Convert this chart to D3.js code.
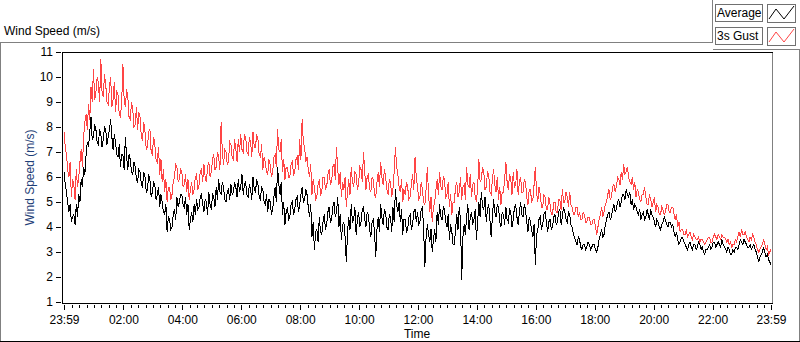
<!DOCTYPE html>
<html lang="en">
<head>
<meta charset="UTF-8">
<title>Wind Speed (m/s)</title>
<script src="https://d3js.org/d3.v7.min.js"></script>
<style>
  body { margin: 0; background: #fff; }
  svg { display: block; font-family: "Liberation Sans", Arial, sans-serif; font-size: 12px; }
  .frame { fill: none; stroke: #808080; shape-rendering: crispEdges; }
  .axis line { stroke: #000; shape-rendering: crispEdges; }
  .axis text { fill: #000; }
  .series { fill: none; stroke-width: 1; shape-rendering: crispEdges; }
</style>
</head>
<body>
<svg width="800" height="342"></svg>
<script>
// 2.5-minute samples, 23:59 (previous day) to 23:59
const average = [
  6.2,5.7,5.4,5.0,4.6,4.9,4.2,4.4,4.5,4.1,4.9,4.4,5.3,5.0,5.9,5.6,6.4,6.1,6.9,7.4,7.2,7.8,8.4,7.5,
  7.6,8.1,7.9,7.4,7.3,7.9,7.7,7.2,7.5,8.0,7.9,7.3,7.6,7.9,8.3,7.6,7.1,7.7,7.4,6.9,6.8,7.3,6.4,6.9,
  6.9,6.3,7.6,6.8,6.3,6.9,6.7,6.2,6.1,6.6,6.4,5.9,5.8,6.3,6.2,5.7,5.6,6.2,6.0,5.4,5.5,6.1,5.9,5.2,
  5.4,5.8,5.7,5.1,5.3,5.6,4.8,5.3,5.0,4.6,4.5,4.9,3.8,4.4,4.3,3.9,4.0,4.5,4.7,4.3,5.2,4.8,5.0,5.3,
  5.3,4.9,4.8,5.2,4.5,4.9,3.9,4.3,4.6,4.2,4.9,4.5,5.1,4.7,4.8,5.2,5.3,4.9,4.6,5.1,5.0,4.5,5.4,4.9,
  4.7,5.3,5.2,4.8,5.6,5.1,5.9,5.4,5.3,5.8,5.6,5.1,5.0,5.4,5.5,5.1,5.7,5.3,5.4,5.8,5.6,5.2,5.9,5.4,
  5.6,6.1,5.3,5.7,5.8,5.3,5.2,5.7,5.5,5.1,6.0,5.5,5.4,5.9,5.7,5.2,5.1,5.6,5.5,5.0,4.9,5.3,4.6,5.1,
  5.0,4.5,4.7,5.2,5.6,5.0,6.4,5.7,5.3,5.8,4.5,5.0,4.1,4.6,4.8,4.3,4.4,4.9,5.0,4.5,4.7,5.1,5.2,4.6,
  4.9,5.3,5.6,5.0,5.1,5.5,5.3,4.8,4.4,4.9,3.6,4.2,3.1,3.8,3.9,3.4,4.4,3.8,3.7,4.2,4.5,3.9,4.1,4.6,
  4.8,4.2,4.3,4.8,5.0,4.4,4.6,5.2,4.0,4.5,3.5,4.1,4.2,3.6,2.6,3.8,4.4,3.9,4.9,4.2,4.3,4.8,3.7,4.3,
  4.6,4.0,4.2,4.7,4.8,4.3,4.0,4.6,4.5,3.9,3.6,4.2,4.3,3.8,2.8,3.9,4.4,3.8,4.9,4.4,4.1,4.7,4.6,4.0,
  3.9,4.5,4.4,3.8,4.8,4.2,5.5,4.9,4.6,5.0,4.2,4.7,3.7,4.3,4.3,3.8,3.9,4.4,4.5,3.9,4.1,4.6,4.7,4.2,
  4.6,4.1,4.2,4.7,4.8,3.9,2.4,3.6,4.1,3.7,3.4,3.9,3.0,3.5,3.9,3.4,4.6,4.1,4.9,4.4,4.3,4.8,4.7,4.2,
  4.0,4.5,3.5,4.1,3.8,3.3,3.3,3.9,4.5,3.9,4.8,4.3,1.9,3.6,4.1,3.7,4.4,4.9,3.9,4.4,4.6,4.1,4.3,4.7,
  3.5,4.2,5.0,4.4,5.4,4.8,4.7,5.2,4.2,4.7,4.9,4.3,3.6,4.4,5.1,4.6,4.4,4.9,4.8,4.2,4.0,4.6,4.5,4.1,
  4.8,4.3,4.2,4.7,4.6,4.0,4.3,4.8,4.9,4.4,4.1,4.6,5.0,4.5,4.4,4.9,4.7,4.2,3.8,4.4,4.2,3.9,3.6,4.1,
  2.5,3.7,3.9,4.3,4.4,3.9,4.1,4.5,4.6,4.2,3.8,4.2,4.3,3.9,4.0,4.4,4.5,4.1,4.2,4.6,4.7,4.1,4.4,4.8,
  4.6,4.3,4.2,4.6,4.5,4.1,4.0,3.7,3.6,3.4,3.3,3.6,3.5,3.2,3.1,3.3,3.3,3.1,3.2,3.4,3.3,3.1,3.2,3.3,
  3.3,3.1,3.0,3.2,3.5,3.7,3.9,3.6,3.7,4.1,4.3,4.5,4.6,4.3,4.4,4.7,4.9,4.6,4.7,5.0,5.1,4.8,5.0,5.3,
  5.3,5.1,5.5,5.3,5.2,5.4,4.9,5.1,4.7,4.9,4.8,4.6,4.5,4.7,4.3,4.5,4.6,4.3,4.4,4.7,4.5,4.3,4.7,4.5,
  4.4,4.2,4.0,4.3,4.2,4.0,3.9,4.1,4.2,4.4,4.3,4.1,4.0,4.2,4.2,4.0,4.1,3.8,3.6,3.8,3.5,3.3,3.4,3.6,
  3.6,3.4,3.3,3.2,3.1,3.3,3.4,3.2,3.1,3.3,3.3,3.1,3.2,3.4,3.3,3.1,3.2,3.0,2.9,3.1,3.1,3.2,3.3,3.1,
  3.2,3.4,3.4,3.2,3.3,3.4,3.3,3.2,3.5,3.3,3.2,3.1,3.0,3.2,3.1,2.9,2.9,3.1,3.0,3.2,3.2,3.1,3.3,3.5,
  3.4,3.3,3.5,3.4,3.3,3.2,3.2,3.3,3.1,3.2,3.3,3.1,3.0,2.8,2.6,2.8,2.9,3.0,3.2,3.0,2.8,2.9,2.7,2.6,
  2.5
];
const gust = [
  7.8,7.2,6.9,6.3,6.0,6.6,5.2,5.9,5.7,5.1,6.3,5.6,6.0,6.6,7.1,6.4,7.6,8.2,8.5,7.9,8.9,8.3,9.6,9.0,
  10.3,9.1,9.4,10.0,9.8,9.0,10.7,9.4,9.2,10.1,9.7,9.0,8.9,9.6,10.0,8.8,9.1,9.8,8.6,9.4,9.3,8.5,8.4,9.0,
  10.5,9.1,8.8,9.5,9.2,8.4,8.3,9.0,8.7,8.0,8.1,8.8,7.9,8.6,8.4,7.6,7.5,8.2,7.8,7.1,7.2,7.8,7.9,7.0,
  6.9,7.6,7.3,6.7,6.6,7.2,6.1,6.7,5.8,6.3,5.4,5.9,5.0,5.6,5.6,5.1,5.3,5.8,6.0,6.5,6.4,5.8,5.9,6.3,
  6.2,5.6,5.7,6.1,5.4,5.9,5.1,5.5,5.8,5.3,5.5,6.0,6.1,5.5,5.7,6.2,6.3,5.8,6.5,6.0,5.8,6.4,6.6,6.0,
  6.2,6.7,6.9,6.3,6.4,7.0,6.8,6.3,8.2,7.0,6.5,7.1,7.0,6.5,6.6,7.4,7.3,6.8,6.7,7.5,7.1,6.6,7.5,7.0,
  7.7,7.1,7.0,7.7,7.6,7.0,6.9,7.6,7.4,6.8,7.8,7.2,7.2,7.7,7.5,6.9,6.8,7.3,6.3,6.8,6.6,6.2,6.1,6.7,
  6.5,6.0,6.2,6.8,6.9,6.4,7.9,7.1,7.0,7.5,6.2,6.7,5.9,6.4,6.4,6.0,6.0,6.5,6.6,6.1,6.2,6.7,6.8,6.3,
  7.5,6.7,8.3,7.4,7.2,6.6,6.8,6.3,6.0,6.5,5.3,5.9,5.6,5.1,5.2,5.7,5.9,5.3,5.4,6.0,6.0,5.5,5.6,6.1,
  6.3,5.7,5.8,6.4,6.5,5.9,7.2,6.3,5.7,6.2,5.2,5.8,5.5,6.0,4.8,5.4,5.9,5.3,6.4,5.8,5.6,6.2,6.1,5.5,
  5.7,6.4,6.3,5.8,7.0,6.2,5.5,6.0,6.1,5.5,5.4,6.0,5.9,5.3,5.2,5.8,6.2,5.6,6.6,6.0,5.7,6.3,6.0,5.5,
  5.3,5.9,5.8,5.2,5.5,6.2,7.2,6.4,6.1,5.6,5.4,5.9,5.0,5.5,5.3,5.8,5.6,5.1,5.2,5.7,6.1,5.5,6.8,6.0,
  5.6,5.1,5.2,5.8,5.5,5.0,4.9,5.5,6.4,5.3,4.6,5.2,4.2,4.8,5.0,5.5,5.9,5.3,6.2,5.6,5.5,6.0,5.9,5.2,
  5.3,5.8,4.8,5.3,4.5,5.0,5.0,5.6,5.8,5.2,5.4,6.0,5.1,5.6,5.7,5.1,6.4,5.7,5.6,6.1,5.2,5.7,5.8,5.2,
  5.0,5.6,6.7,5.8,5.9,6.4,6.2,5.5,5.6,6.2,6.1,5.4,5.3,5.9,6.3,5.7,5.4,6.0,5.1,5.6,4.9,5.4,5.4,5.9,
  6.6,5.8,5.5,6.1,5.9,5.3,6.2,5.6,5.7,6.3,5.3,5.8,6.0,5.4,5.4,5.9,5.8,5.2,4.9,5.5,5.5,5.0,5.1,5.7,
  6.4,5.4,5.0,5.6,5.3,4.8,4.8,5.3,5.2,4.7,4.7,5.2,4.9,4.5,4.5,5.0,5.0,4.6,4.6,5.1,5.1,4.7,5.5,5.0,
  5.0,5.4,5.2,4.8,5.4,4.9,4.8,4.5,4.5,4.8,4.8,4.4,4.6,4.3,4.3,4.6,4.5,4.2,4.2,4.4,4.4,4.1,4.1,4.3,
  4.3,4.0,3.7,4.0,4.3,4.5,4.8,4.4,4.6,4.9,5.0,5.3,5.5,5.1,5.2,5.6,5.7,5.4,5.6,6.0,5.9,5.7,6.2,5.9,
  6.5,6.1,6.2,6.4,6.0,5.8,5.7,6.0,5.5,5.8,5.2,5.5,5.4,5.1,5.0,5.3,5.3,5.6,5.2,4.9,4.9,5.3,5.1,4.8,
  5.0,5.2,4.6,4.9,4.8,4.5,4.5,4.8,4.7,4.5,4.6,4.9,4.9,4.6,4.6,4.8,4.8,4.5,4.3,4.5,4.0,4.2,3.8,3.9,
  3.9,3.7,3.7,3.9,3.6,3.7,3.8,3.6,3.5,3.7,3.6,3.5,3.5,3.6,3.4,3.5,3.5,3.4,3.3,3.4,3.5,3.6,3.6,3.4,
  3.4,3.6,3.7,3.6,3.5,3.7,3.6,3.5,3.7,3.6,3.6,3.5,3.4,3.5,3.3,3.4,3.2,3.3,3.3,3.5,3.4,3.6,3.8,3.6,
  3.9,3.7,3.7,3.8,3.6,3.5,3.4,3.6,3.5,3.7,3.6,3.4,3.3,3.1,3.0,3.1,3.2,3.3,3.5,3.3,3.1,3.2,2.9,3.0,
  3.1
];
const tickLabels = ['23:59','02:00','04:00','06:00','08:00','10:00','12:00',
                    '14:00','16:00','18:00','20:00','22:00','23:59'];
const yTicks = [1,2,3,4,5,6,7,8,9,10,11];
const seriesNames = ['Average','3s Gust'];
const seriesColors = ['#000000','#ff4545'];

const start = new Date(2000, 0, 1, 23, 59);
const end = new Date(2000, 0, 2, 23, 59);
const times = average.map((d, i) => d3.timeSecond.offset(start, i * 150));

const svg = d3.select('svg');
const plot = {left: 62, right: 772, top: 52, bottom: 303};

const x = d3.scaleTime().domain([start, end]).range([64, 771]);
const y = d3.scaleLinear().domain([1, 11]).range([302, 52]);

// outer frame
svg.append('path').attr('class', 'frame')
  .attr('d', 'M0.5,341 V42.5 H712.5 V0 M712.5,49.5 H799.5 V341');
svg.append('line').attr('x1', 0).attr('x2', 800).attr('y1', 341.5).attr('y2', 341.5)
  .attr('stroke', '#000').style('shape-rendering', 'crispEdges');

svg.append('text').attr('x', 4).attr('y', 35).attr('fill', '#000').text('Wind Speed (m/s)');

// plot box
svg.append('path').attr('fill', 'none').attr('stroke', '#808080').style('shape-rendering', 'crispEdges')
  .attr('d', `M${plot.right + 0.5},${plot.top} V${plot.bottom}`);
svg.append('path').attr('fill', 'none').attr('stroke', '#000').style('shape-rendering', 'crispEdges')
  .attr('d', `M${plot.left + 0.5},${plot.bottom + 0.5} V${plot.top + 0.5} H${plot.right + 1} M${plot.left},${plot.bottom + 0.5} H${plot.right + 1}`);

svg.append('clipPath').attr('id', 'clip').append('rect')
  .attr('x', plot.left + 1).attr('y', plot.top + 1)
  .attr('width', plot.right - plot.left - 1).attr('height', plot.bottom - plot.top - 1);

const line = d3.line().x((d, i) => x(times[i])).y(d => y(d));
const g = svg.append('g').attr('clip-path', 'url(#clip)');
[gust, average].forEach((s, k) => {
  g.append('path').attr('class', 'series')
    .attr('stroke', seriesColors[1 - k])
    .attr('d', line(s));
});

// y axis
const yAxis = svg.append('g').attr('class', 'axis')
  .attr('transform', `translate(${plot.left - 1},0)`)
  .call(d3.axisLeft(y).tickValues(yTicks).tickSize(5).tickSizeOuter(0).tickPadding(3));
yAxis.select('.domain').remove();
yAxis.selectAll('text').style('font-size', '12px').style('font-family', '"Liberation Sans", Arial, sans-serif');

svg.append('text')
  .attr('transform', `translate(34,${(plot.top + plot.bottom) / 2}) rotate(-90)`)
  .attr('text-anchor', 'middle').attr('fill', '#1f3f78')
  .text('Wind Speed (m/s)');

// x axis: major + minor ticks
const majors = [start].concat(d3.range(2, 24, 2).map(h => new Date(2000, 0, 2, h, 0)), [end]);
const minors = d3.timeMinute.every(15).range(new Date(2000, 0, 2, 0, 15), end)
  .filter(d => !(d.getMinutes() === 0 && d.getHours() % 2 === 0));

const xMinor = svg.append('g').attr('class', 'axis')
  .attr('transform', `translate(0,${plot.bottom + 2})`)
  .call(d3.axisBottom(x).tickValues(minors).tickSize(3).tickSizeOuter(0).tickFormat(''));
xMinor.select('.domain').remove();

const xMajor = svg.append('g').attr('class', 'axis')
  .attr('transform', `translate(0,${plot.bottom + 2})`)
  .call(d3.axisBottom(x).tickValues(majors).tickSize(5).tickSizeOuter(0)
    .tickPadding(5).tickFormat((d, i) => tickLabels[i]));
xMajor.select('.domain').remove();
xMajor.selectAll('text').style('font-size', '12px').style('font-family', '"Liberation Sans", Arial, sans-serif');

svg.append('text').attr('x', (plot.left + plot.right) / 2).attr('y', 338)
  .attr('text-anchor', 'middle').attr('fill', '#000').text('Time');

// legend
const legend = svg.append('g');
seriesNames.forEach((name, i) => {
  const top = 4 + i * 23;
  legend.append('rect').attr('x', 715.5).attr('y', top + 0.5).attr('width', 47).attr('height', 17)
    .attr('fill', '#fff').attr('stroke', '#707070').style('shape-rendering', 'crispEdges');
  legend.append('text').attr('x', 717).attr('y', top + 13).attr('fill', '#000').text(name);
  legend.append('rect').attr('x', 767.5).attr('y', top + 0.5).attr('width', 28).attr('height', 18)
    .attr('fill', '#fff').attr('stroke', '#707070').style('shape-rendering', 'crispEdges');
  legend.append('polyline')
    .attr('points', [[769, top + 15], [776, top + 5], [784, top + 15], [794, top + 2]].join(' '))
    .attr('fill', 'none').attr('stroke', seriesColors[i]).attr('stroke-width', 1);
});
</script>
</body>
</html>
